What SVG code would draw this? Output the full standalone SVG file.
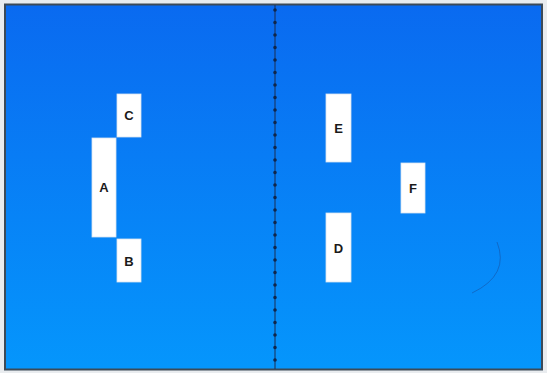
<svg xmlns="http://www.w3.org/2000/svg" width="547" height="373" viewBox="0 0 547 373">
<defs>
<linearGradient id="bg" x1="0" y1="0" x2="0" y2="1">
<stop offset="0" stop-color="#0a6af0"/>
<stop offset="1" stop-color="#0596fc"/>
</linearGradient>
<style>
.node rect{fill:#ffffff;stroke:#d8e4f0;stroke-width:0.8}
.node text{font-family:"Liberation Sans",Arial,sans-serif;font-weight:bold;font-size:13px;fill:#1a1a1a;text-anchor:middle;dominant-baseline:central}
</style>
</defs>
<rect x="0" y="0" width="547" height="373" fill="#e9ecef"/>
<rect x="5" y="4.5" width="537" height="365" fill="url(#bg)" stroke="#3c4a58" stroke-width="2"/>
<g id="connectors">
<line x1="275" y1="5" x2="275" y2="369" stroke="#1a2f55" stroke-width="1"/>
<line x1="275" y1="10" x2="275" y2="369" stroke="#10264a" stroke-width="3.6" stroke-linecap="round" stroke-dasharray="0 12.5"/>
<path d="M497 242 Q510 275 472 293" fill="none" stroke="#1555a8" stroke-width="1" opacity="0.6"/>
</g>
<g id="node-C" class="node"><rect x="117" y="94" width="24" height="43"/><text x="129" y="115.5">C</text></g>
<g id="node-A" class="node"><rect x="92" y="138" width="24" height="99"/><text x="104" y="187.5">A</text></g>
<g id="node-B" class="node"><rect x="117" y="239" width="24" height="43"/><text x="129" y="261">B</text></g>
<g id="node-E" class="node"><rect x="326" y="94" width="25" height="68"/><text x="338.5" y="128">E</text></g>
<g id="node-F" class="node"><rect x="401" y="163" width="24" height="50"/><text x="413" y="188">F</text></g>
<g id="node-D" class="node"><rect x="326" y="213" width="25" height="69"/><text x="338.5" y="248">D</text></g>
</svg>
